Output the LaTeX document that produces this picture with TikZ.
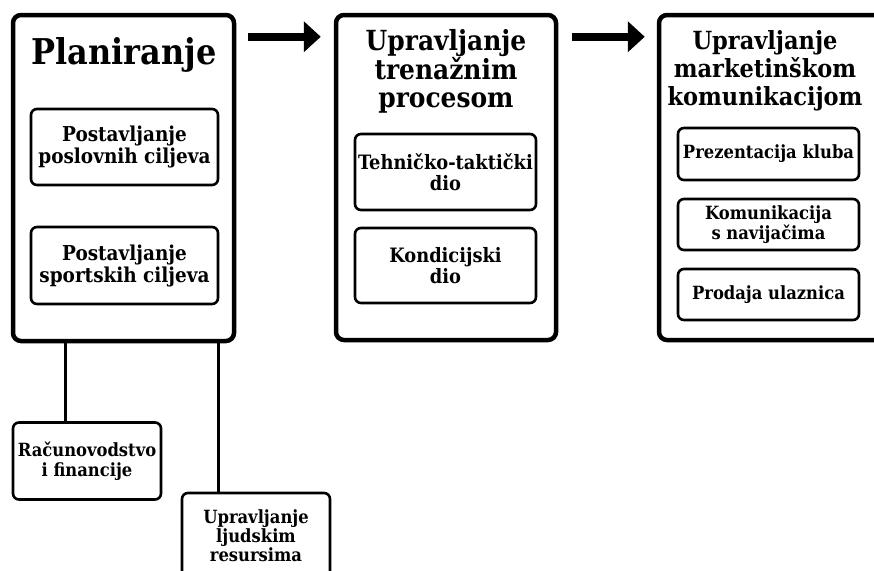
\documentclass[tikz,border=0pt]{standalone}
\usepackage{fontspec}
\usetikzlibrary{arrows.meta}
\newfontfamily\cf{DejaVu Serif Condensed Bold}
\tikzset{
  outerbox/.style={draw, line width=4.5pt, rounded corners=8pt, inner sep=0pt},
  innerbox/.style={draw, line width=2.6pt, rounded corners=6pt, inner sep=0pt, align=center},
  titletext/.style={align=center, inner sep=0pt},
  fa/.style={font=\cf\fontsize{20.5}{22}\selectfont},
  fb/.style={font=\cf\fontsize{19.8}{20.5}\selectfont},
  fc/.style={font=\cf\fontsize{18.2}{20}\selectfont},
  bigarrow/.style={line width=8pt, -{Triangle[length=17pt,width=30pt]}},
  link/.style={line width=2.6pt},
}
\begin{document}
\begin{tikzpicture}[x=1pt,y=-1pt]
\useasboundingbox (0,0) rectangle (874,570);
\clip (0,0) rectangle (874,570);
% outer boxes
\node[outerbox, minimum width=221pt, minimum height=326pt] (p1) at (123.5,178) {};
\node[outerbox, minimum width=220pt, minimum height=325pt] (p2) at (446,177.5) {};
\node[outerbox, minimum width=230pt, minimum height=325pt] (p3) at (774,177.5) {};
% titles
\node[titletext, font=\cf\fontsize{35.5}{40}\selectfont] (t1) at (124,55) {Planiranje};
\node[titletext, font=\cf\fontsize{27.7}{28.5}\selectfont] (t2) at (446,71.5) {Upravljanje\\trenažnim\\procesom};
\node[titletext, font=\cf\fontsize{25}{28}\selectfont] (t3) at (765,71) {Upravljanje\\marketinškom\\komunikacijom};
% inner boxes
\node[innerbox, fa, minimum width=187pt, minimum height=76pt] (a1) at (124.5,147) {Postavljanje\\poslovnih ciljeva};
\node[innerbox, fa, minimum width=187pt, minimum height=77pt] (a2) at (124.5,265.5) {Postavljanje\\sportskih ciljeva};
\node[innerbox, fb, minimum width=181pt, minimum height=76pt] (b1) at (445.5,172) {Tehničko-taktički\\dio};
\node[innerbox, fb, minimum width=181pt, minimum height=75pt] (b2) at (445.5,265.5) {Kondicijski\\dio};
\node[innerbox, fc, minimum width=181pt, minimum height=52pt] (c1) at (768.5,154) {Prezentacija kluba};
\node[innerbox, fc, minimum width=181pt, minimum height=51pt] (c2) at (768.5,224.5) {Komunikacija\\s navijačima};
\node[innerbox, fc, minimum width=181pt, minimum height=51pt] (c3) at (768.5,294.5) {Prodaja ulaznica};
% bottom boxes
\node[innerbox, fc, minimum width=148pt, minimum height=77pt] (r) at (87,461) {Računovodstvo\\i financije};
\node[innerbox, font=\cf\fontsize{18.2}{19}\selectfont, minimum width=148pt, minimum height=86pt] (u) at (256,536) {Upravljanje\\ljudskim\\resursima};
% arrows
\draw[bigarrow] ([shift={(12,24)}]p1.north east) -- ([shift={(-13,24)}]p2.north west);
\draw[bigarrow] ([shift={(14,24)}]p2.north east) -- ([shift={(-12,24)}]p3.north west);
% links
\draw[link] ([xshift=54pt]r.north west) -- ([xshift=54pt]r.north west |- p1.south);
\draw[link] ([xshift=38pt]u.north west) -- ([xshift=38pt]u.north west |- p1.south);
\end{tikzpicture}
\end{document}
